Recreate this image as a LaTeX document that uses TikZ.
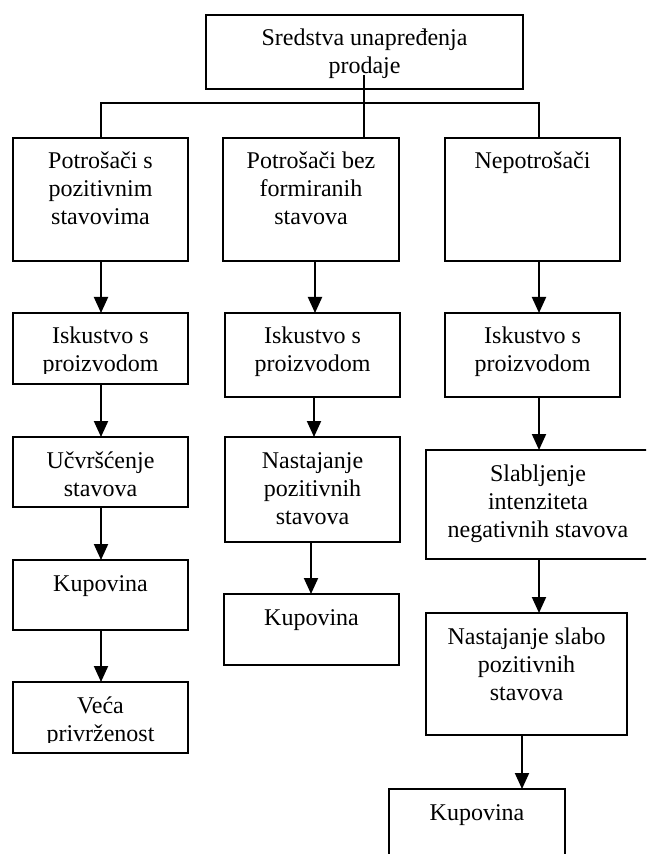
\documentclass[tikz,border=0pt]{standalone}
\usepackage{fontspec}
\setmainfont{Liberation Serif}
\usetikzlibrary{arrows.meta,calc}
\tikzset{
  box/.style={draw, line width=1pt, inner sep=0pt, outer sep=0pt},
  lbl/.style={anchor=base, inner sep=0pt, font=\fontsize{12pt}{14pt}\selectfont},
  arr/.style={line width=1pt, -{Triangle[length=8pt,width=7pt]}},
  conn/.style={line width=1pt}
}
% name, x1, y1, x2, y2, text-cut-y, text
\newcommand\flowboxc[7]{%
  \pgfmathsetmacro\fbW{(#4-#2)*0.5}%
  \pgfmathsetmacro\fbH{(#5-#3)*0.5}%
  \pgfmathsetmacro\fbX{(#2+#4)/2}%
  \pgfmathsetmacro\fbY{(#3+#5)/2}%
  \pgfmathsetmacro\fbT{#3+31}%
  \node[box, minimum width=\fbW pt, minimum height=\fbH pt] (#1) at (\fbX,\fbY) {};
  \begin{scope}
    \clip (#2,#3) rectangle (#4,#6);
    \node[lbl] (#1-t) at (\fbX,\fbT) {\begin{tabular}[t]{@{}c@{}}#7\end{tabular}};
  \end{scope}
}
\newcommand\flowbox[6]{\flowboxc{#1}{#2}{#3}{#4}{#5}{#5}{#6}}
\begin{document}
\begin{tikzpicture}[x=0.5pt,y=-0.5pt]
\useasboundingbox (0,0) rectangle (646,854);
\clip (0,0) rectangle (646,854);
\flowbox{top}{206}{15}{523}{89}{Sredstva unapređenja\\prodaje}
\flowbox{l2}{13}{138}{188}{261}{Potrošači s\\pozitivnim\\stavovima}
\flowbox{m2}{223}{138}{399}{261}{Potrošači bez\\formiranih\\stavova}
\flowbox{r2}{445}{138}{620}{261}{Nepotrošači}
\flowboxc{l3}{13}{313}{188}{384}{373.5}{Iskustvo s\\proizvodom}
\flowbox{m3}{225}{313}{400}{397}{Iskustvo s\\proizvodom}
\flowbox{r3}{445}{313}{620}{397}{Iskustvo s\\proizvodom}
\flowbox{l4}{13}{437}{188}{507}{Učvršćenje\\stavova}
\flowbox{m4}{225}{437}{400}{542}{Nastajanje\\pozitivnih\\stavova}
\flowbox{r4}{426}{450}{650}{559}{Slabljenje\\intenziteta\\negativnih stavova}
\flowbox{l5}{13}{560}{188}{630}{Kupovina}
\flowbox{m5}{224}{594}{399}{665}{Kupovina}
\flowbox{r5}{426}{613}{627}{735}{Nastajanje slabo\\pozitivnih\\stavova}
\flowboxc{l6}{13}{682}{188}{753}{742.5}{Veća\\privrženost}
\flowbox{r6}{389}{789}{565}{870}{Kupovina}
% top connectors
\coordinate (topin) at (364,75);
\coordinate (hb) at (364,103);
\draw[conn] (topin) -- (topin |- m2.north);
\draw[conn] ([xshift=0.25pt]l2.north) |- (hb) -| ([xshift=3.25pt]r2.north);
% left column
\draw[arr] ([xshift=0.25pt]l2.south) -- ([xshift=0.25pt]l2.south |- l3.north);
\draw[arr] ([xshift=0.25pt]l3.south) -- ([xshift=0.25pt]l3.south |- l4.north);
\draw[arr] ([xshift=0.25pt]l4.south) -- ([xshift=0.25pt]l4.south |- l5.north);
\draw[arr] ([xshift=0.25pt]l5.south) -- ([xshift=0.25pt]l5.south |- l6.north);
% middle column
\draw[arr] ([xshift=2pt]m2.south) -- ([xshift=2pt]m2.south |- m3.north);
\draw[arr] ([xshift=0.75pt]m3.south) -- ([xshift=0.75pt]m3.south |- m4.north);
\draw[arr] ([xshift=-0.75pt]m4.south) -- ([xshift=-0.75pt]m4.south |- m5.north);
% right column
\draw[arr] ([xshift=3.25pt]r2.south) -- ([xshift=3.25pt]r2.south |- r3.north);
\draw[arr] ([xshift=3.25pt]r3.south) -- ([xshift=3.25pt]r3.south |- r4.north);
\draw[arr] ([xshift=0.5pt]r4.south) -- ([xshift=0.5pt]r4.south |- r5.north);
\draw[arr] ([xshift=-2.25pt]r5.south) -- ([xshift=-2.25pt]r5.south |- r6.north);
\end{tikzpicture}
\end{document}
